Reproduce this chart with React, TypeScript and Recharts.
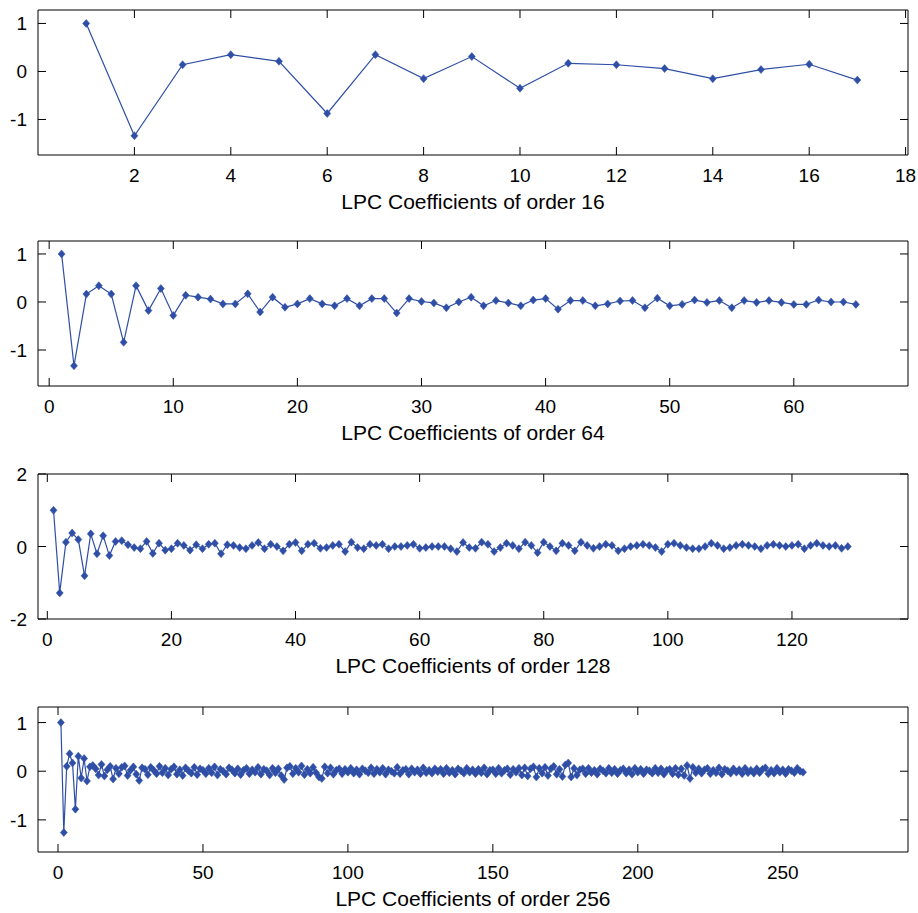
import React from "react";
import { LineChart, Line, XAxis, YAxis, Label, ReferenceLine } from "recharts";

// ---------- data ----------
const coeffs16 = [1.0, -1.34, 0.14, 0.35, 0.21, -0.875, 0.35, -0.15, 0.31, -0.35, 0.17, 0.14, 0.06, -0.15, 0.04, 0.15, -0.18];

const coeffs64 = [
  1.0, -1.33, 0.165, 0.34, 0.165, -0.84, 0.34, -0.18, 0.28, -0.28,
  0.14, 0.1, 0.06, -0.04, -0.04, 0.17, -0.21, 0.1, -0.11, -0.04,
  0.07, -0.04, -0.08, 0.07, -0.08, 0.07, 0.07, -0.23, 0.07, 0.01,
  -0.02, -0.12, 0.0, 0.1, -0.08, 0.03, -0.02, -0.08, 0.04, 0.07,
  -0.15, 0.03, 0.03, -0.08, -0.04, 0.02, 0.03, -0.12, 0.08, -0.08,
  -0.05, 0.04, -0.01, 0.03, -0.12, 0.03, -0.01, 0.03, -0.01, -0.05,
  -0.05, 0.04, 0.0, 0.0, -0.05,
];

const coeffs128 = [
  1.0, -1.28, 0.12, 0.37, 0.19, -0.81, 0.35, -0.2, 0.3, -0.25,
  0.14, 0.16, 0.05, -0.03, -0.06, 0.14, -0.19, 0.09, -0.1, -0.06,
  0.09, 0.03, -0.1, 0.05, -0.06, 0.06, 0.09, -0.2, 0.05, 0.03,
  -0.03, -0.06, 0.03, 0.11, -0.06, 0.06, 0.0, -0.12, 0.06, 0.11,
  -0.12, 0.06, 0.09, -0.05, -0.03, 0.03, 0.06, -0.14, 0.12, -0.03,
  -0.06, 0.06, 0.03, 0.06, -0.06, 0.0, 0.0, 0.03, 0.06, -0.05,
  -0.03, 0.0, 0.0, 0.0, -0.06, -0.14, 0.11, -0.03, -0.05, 0.12,
  0.06, -0.14, -0.03, 0.09, 0.03, -0.06, 0.12, 0.03, -0.17, 0.12,
  0.0, -0.12, 0.09, 0.03, -0.12, 0.12, 0.03, -0.05, 0.0, 0.06,
  0.03, -0.12, -0.06, 0.0, 0.03, 0.06, 0.03, -0.03, -0.14, 0.06,
  0.09, 0.03, -0.03, -0.06, -0.06, 0.0, 0.09, 0.03, -0.06, -0.03,
  0.03, 0.06, 0.03, 0.0, -0.06, 0.03, 0.06, 0.03, 0.0, 0.03,
  0.06, -0.06, 0.03, 0.09, 0.03, 0.0, 0.03, -0.05, 0.0,
];

const coeffs256 = [
  1.0, -1.26, 0.1, 0.36, 0.17, -0.78, 0.31, -0.14, 0.26, -0.2,
  0.09, 0.12, 0.05, -0.08, 0.14, -0.1, 0.03, 0.1, -0.16, 0.06,
  -0.05, 0.08, 0.11, -0.09, 0.02, 0.09, -0.06, -0.19, 0.07, 0.04,
  -0.07, 0.08, 0.02, -0.05, 0.1, -0.03, 0.06, -0.08, 0.04, 0.09,
  -0.06, 0.03, -0.09, 0.07, 0.01, -0.04, 0.08, -0.07, 0.05, 0.02,
  -0.05, 0.06, -0.03, 0.09, -0.08, 0.04, 0.0, -0.06, 0.07, 0.03,
  -0.04, 0.05, -0.07, 0.02, 0.06, -0.05, 0.03, -0.02, 0.08, -0.06,
  0.04, 0.01, -0.08, 0.06, -0.03, 0.05, -0.09, -0.17, 0.07, 0.1,
  -0.05, 0.06, -0.02, 0.11, -0.07, 0.04, -0.04, 0.08, -0.03, -0.12,
  -0.15, 0.09, -0.04, 0.07, -0.06, 0.02, 0.05, -0.05, 0.04, -0.02,
  0.06, -0.04, 0.03, -0.06, 0.05, 0.01, -0.03, 0.07, -0.05, 0.04,
  -0.02, 0.06, -0.06, 0.03, 0.0, -0.04, 0.08, -0.05, 0.02, 0.04,
  -0.06, 0.05, -0.02, 0.03, -0.05, 0.07, -0.03, 0.02, -0.04, 0.05,
  -0.01, 0.04, -0.05, 0.06, -0.03, 0.02, -0.06, 0.05, 0.01, -0.04,
  0.06, -0.02, 0.03, -0.05, 0.04, -0.03, 0.07, -0.06, 0.02, 0.03,
  -0.05, 0.06, -0.04, 0.02, 0.05, -0.07, 0.04, -0.02, 0.06, -0.08,
  0.07, -0.1, 0.05, 0.09, -0.12, 0.06, -0.04, 0.08, -0.09, 0.05,
  0.1, -0.06, 0.04, -0.11, 0.13, 0.17, -0.12, 0.06, -0.08, 0.03,
  0.05, -0.05, 0.06, -0.03, 0.02, -0.06, 0.05, 0.01, -0.04, 0.06,
  -0.03, 0.04, -0.05, 0.02, 0.05, -0.04, 0.03, -0.06, 0.06, -0.02,
  0.04, -0.05, 0.03, 0.01, -0.04, 0.06, -0.03, 0.05, -0.06, 0.02,
  0.04, -0.05, 0.06, -0.07, 0.05, -0.09, 0.12, -0.15, 0.08, -0.03,
  0.05, -0.04, 0.03, 0.06, -0.05, 0.02, -0.03, 0.07, -0.06, 0.04,
  0.01, -0.04, 0.05, -0.02, 0.03, -0.05, 0.06, -0.03, 0.02, -0.04,
  0.05, -0.03, 0.04, 0.07, -0.05, 0.02, -0.04, 0.06, -0.02, 0.03,
  -0.05, 0.04, 0.01, -0.03, 0.06, 0.0, -0.02,
];

const xTicks16 = [2, 4, 6, 8, 10, 12, 14, 16, 18];
const xTicks64 = [0, 10, 20, 30, 40, 50, 60];
const xTicks128 = [0, 20, 40, 60, 80, 100, 120];
const xTicks256 = [0, 50, 100, 150, 200, 250];
const yTicksUnit = [-1, 0, 1];
const yTicksTwo = [-2, 0, 2];

const labels = [
  "LPC Coefficients of order 16",
  "LPC Coefficients of order 64",
  "LPC Coefficients of order 128",
  "LPC Coefficients of order 256",
];

// ---------- styling ----------
const BLUE = "#2f4fa6";
const FONT = "'Liberation Sans', Arial, sans-serif";
const CHART_W = 918;
const CHART_H = 215;
const PLOT_TOP = 10;
const PLOT_H = 145;
const Y_AXIS_W = 38;
const RIGHT_M = 10;
const PLOT_W = CHART_W - Y_AXIS_W - RIGHT_M;
const TICK_LEN = 8;
const TICK_FS = 19;

const XTick = (props: any) => {
  const { x, y, payload } = props;
  return (
    <g>
      <line x1={x} x2={x} y1={y} y2={y - TICK_LEN} stroke="#000" strokeWidth={1} />
      <line x1={x} x2={x} y1={y - PLOT_H} y2={y - PLOT_H + TICK_LEN} stroke="#000" strokeWidth={1} />
      <text x={x} y={y + 27} textAnchor="middle" fontSize={TICK_FS} fontFamily={FONT} fill="#000">
        {String(payload.value)}
      </text>
    </g>
  );
};

const YTick = (props: any) => {
  const { x, y, payload } = props;
  return (
    <g>
      <line x1={x} x2={x + TICK_LEN} y1={y} y2={y} stroke="#000" strokeWidth={1} />
      <line x1={x + PLOT_W} x2={x + PLOT_W - TICK_LEN} y1={y} y2={y} stroke="#000" strokeWidth={1} />
      <text x={x - 11} y={y + 7} textAnchor="end" fontSize={TICK_FS} fontFamily={FONT} fill="#000">
        {String(payload.value)}
      </text>
    </g>
  );
};

const renderDiamond = (p: any) => {
  const { cx, cy, index } = p;
  if (cx == null || cy == null) return <g key={`d-${index}`} />;
  const hw = 3.5;
  const hh = 4;
  return (
    <path
      key={`d-${index}`}
      d={`M${cx},${cy - hh} L${cx + hw},${cy} L${cx},${cy + hh} L${cx - hw},${cy} Z`}
      fill={BLUE}
      stroke={BLUE}
      strokeWidth={0.5}
    />
  );
};

type PanelProps = {
  values: number[];
  xDomain: [number, number];
  yDomain: [number, number];
  xTicks: number[];
  yTicks: number[];
  label: string;
  top: number;
};

const Panel = ({ values, xDomain, yDomain, xTicks, yTicks, label, top }: PanelProps) => {
  const data = values.map((v, i) => ({ x: i + 1, y: v }));
  return (
    <div style={{ position: "absolute", left: 0, top }}>
      <LineChart
        width={CHART_W}
        height={CHART_H}
        data={data}
        margin={{ top: PLOT_TOP, right: RIGHT_M, bottom: 0, left: 0 }}
      >
        <XAxis
          dataKey="x"
          type="number"
          domain={xDomain}
          allowDataOverflow
          ticks={xTicks}
          interval={0}
          tick={XTick}
          tickLine={false}
          tickSize={0}
          tickMargin={0}
          height={CHART_H - PLOT_TOP - PLOT_H}
          axisLine={{ stroke: "#000" }}
          stroke="#000"
        >
          <Label
            value={label}
            position="insideTop"
            offset={39}
            style={{ fontSize: 21, fill: "#000", fontFamily: FONT }}
          />
        </XAxis>
        <YAxis
          type="number"
          domain={yDomain}
          allowDataOverflow
          ticks={yTicks}
          interval={0}
          tick={YTick}
          tickLine={false}
          tickSize={0}
          tickMargin={0}
          width={Y_AXIS_W}
          axisLine={{ stroke: "#000" }}
        />
        <ReferenceLine y={yDomain[1]} stroke="#000" strokeWidth={1} ifOverflow="extendDomain" />
        <ReferenceLine x={xDomain[1]} stroke="#000" strokeWidth={1} ifOverflow="extendDomain" />
        <Line
          type="linear"
          dataKey="y"
          stroke={BLUE}
          strokeWidth={1.2}
          dot={renderDiamond}
          activeDot={false}
          isAnimationActive={false}
        />
      </LineChart>
    </div>
  );
};

export default function App() {
  return (
    <div
      style={{
        position: "absolute",
        left: 0,
        top: 0,
        width: 918,
        height: 913,
        background: "#fff",
        fontFamily: FONT,
      }}
    >
      <Panel values={coeffs16} xDomain={[0, 18.05]} yDomain={[-1.74, 1.28]} xTicks={xTicks16} yTicks={yTicksUnit} label={labels[0]} top={0} />
      <Panel values={coeffs64} xDomain={[-0.9, 69.2]} yDomain={[-1.75, 1.27]} xTicks={xTicks64} yTicks={yTicksUnit} label={labels[1]} top={231} />
      <Panel values={coeffs128} xDomain={[-1.5, 138.7]} yDomain={[-2, 2]} xTicks={xTicks128} yTicks={yTicksTwo} label={labels[2]} top={464} />
      <Panel values={coeffs256} xDomain={[-6.9, 293.2]} yDomain={[-1.66, 1.32]} xTicks={xTicks256} yTicks={yTicksUnit} label={labels[3]} top={697} />
    </div>
  );
}
